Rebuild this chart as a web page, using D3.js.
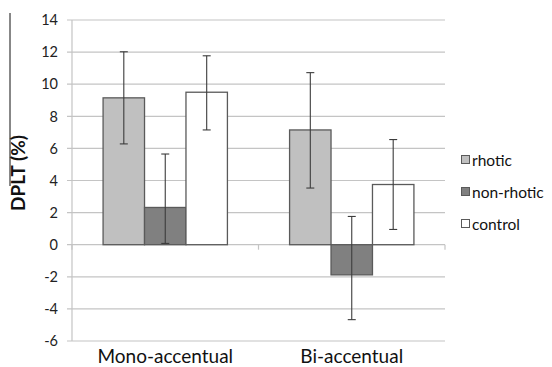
<!DOCTYPE html>
<html>
<head>
<meta charset="utf-8">
<script src="https://cdn.jsdelivr.net/npm/d3@7.9.0/dist/d3.min.js"></script>
<style>
  body { margin: 0; background: #fff; }
  svg { display: block; font-family: Lato, 'Open Sans', sans-serif; }
</style>
</head>
<body>
<svg id="chart" width="552" height="367"></svg>
<script>
const categories = ['Mono-accentual', 'Bi-accentual'];
const series = ['rhotic', 'non-rhotic', 'control'];
const means = {
  'rhotic': [9.15, 7.15],
  'non-rhotic': [2.32, -1.88],
  'control': [9.5, 3.75]
};
// error bar ends
const errUpper = {
  'rhotic': [12.02, 10.72],
  'non-rhotic': [5.65, 1.76],
  'control': [11.77, 6.55]
};
const errLower = {
  'rhotic': [6.28, 3.53],
  'non-rhotic': [0.08, -4.67],
  'control': [7.15, 0.95]
};
const yTicks = [-6, -4, -2, 0, 2, 4, 6, 8, 10, 12, 14];
const colors = { 'rhotic': '#c0c0c0', 'non-rhotic': '#808080', 'control': '#ffffff' };

const svg = d3.select('#chart');
const plotLeft = 72, plotRight = 445, plotTop = 20, plotBottom = 341;

const x = d3.scaleBand().domain(categories).range([plotLeft, plotRight]).paddingInner(0).paddingOuter(0);
const xInner = d3.scaleBand().domain(series).range([0, x.bandwidth()]).paddingOuter(0.75).paddingInner(0);
const y = d3.scaleLinear().domain([-6, 14]).range([plotBottom, plotTop]);

// gridlines
svg.append('g')
  .selectAll('line')
  .data(yTicks)
  .join('line')
  .attr('x1', plotLeft - 5)
  .attr('x2', plotRight)
  .attr('y1', (d) => y(d))
  .attr('y2', (d) => y(d))
  .attr('stroke', '#c4c4c4')
  .attr('stroke-width', 1.2);

// y axis line
svg.append('line')
  .attr('x1', plotLeft).attr('x2', plotLeft)
  .attr('y1', plotTop).attr('y2', plotBottom)
  .attr('stroke', '#c4c4c4').attr('stroke-width', 1.2);

// y tick labels
svg.append('g')
  .selectAll('text')
  .data(yTicks)
  .join('text')
  .attr('x', 58)
  .attr('y', (d) => y(d))
  .attr('dy', '0.36em')
  .attr('text-anchor', 'end')
  .attr('font-size', 14.5)
  .attr('fill', '#222')
  .text((d) => d);

// category ticks on zero line
svg.append('g')
  .selectAll('line')
  .data([plotLeft, plotLeft + x.bandwidth(), plotRight])
  .join('line')
  .attr('x1', (d) => d).attr('x2', (d) => d)
  .attr('y1', y(0)).attr('y2', y(0) + 5)
  .attr('stroke', '#c4c4c4').attr('stroke-width', 1.2);

const rows = (c, ci) => series.map((s) => ({
  s, v: means[s][ci], hi: errUpper[s][ci], lo: errLower[s][ci]
}));

// bars
const groups = svg.append('g')
  .selectAll('g')
  .data(categories)
  .join('g')
  .attr('transform', (d) => `translate(${x(d)},0)`);

groups.selectAll('rect')
  .data(rows)
  .join('rect')
  .attr('x', (d) => xInner(d.s))
  .attr('width', xInner.bandwidth())
  .attr('y', (d) => y(Math.max(0, d.v)))
  .attr('height', (d) => Math.abs(y(d.v) - y(0)))
  .attr('fill', (d) => colors[d.s])
  .attr('stroke', '#5a5a5a')
  .attr('stroke-width', 1.3);

// error bars
const eb = groups.selectAll('g.err')
  .data(rows)
  .join('g')
  .attr('class', 'err')
  .attr('transform', (d) => `translate(${xInner(d.s) + xInner.bandwidth() / 2},0)`)
  .attr('stroke', '#3c3c3c')
  .attr('stroke-width', 1.1);

eb.append('line')
  .attr('y1', (d) => y(d.hi)).attr('y2', (d) => y(d.lo));
eb.append('line')
  .attr('x1', -4).attr('x2', 4)
  .attr('y1', (d) => y(d.hi)).attr('y2', (d) => y(d.hi));
eb.append('line')
  .attr('x1', -4).attr('x2', 4)
  .attr('y1', (d) => y(d.lo)).attr('y2', (d) => y(d.lo));

// category labels
svg.append('g')
  .selectAll('text')
  .data(categories)
  .join('text')
  .attr('x', (d) => x(d) + x.bandwidth() / 2)
  .attr('y', 363)
  .attr('text-anchor', 'middle')
  .attr('font-size', 19)
  .attr('fill', '#111')
  .text((d) => d);

// y axis title
svg.append('text')
  .attr('transform', 'translate(25,173) rotate(-90)')
  .attr('text-anchor', 'middle')
  .attr('font-size', 19)
  .attr('font-weight', 'bold')
  .attr('fill', '#111')
  .text('DPLT (%)');

// stray line at the left edge of the scan
svg.append('line')
  .attr('x1', 10).attr('x2', 10)
  .attr('y1', 13).attr('y2', 186)
  .attr('stroke', '#111').attr('stroke-width', 1);

// legend
const legend = svg.append('g')
  .selectAll('g')
  .data(series)
  .join('g')
  .attr('transform', (d, i) => `translate(461,${160 + i * 32})`);

legend.append('rect')
  .attr('x', 0.5).attr('y', -4.5)
  .attr('width', 8).attr('height', 8)
  .attr('fill', (d) => colors[d])
  .attr('stroke', '#5a5a5a');

legend.append('text')
  .attr('x', 11)
  .attr('y', 0)
  .attr('dy', '0.36em')
  .attr('font-size', 15.5)
  .attr('fill', '#111')
  .text((d) => d);
</script>
</body>
</html>
